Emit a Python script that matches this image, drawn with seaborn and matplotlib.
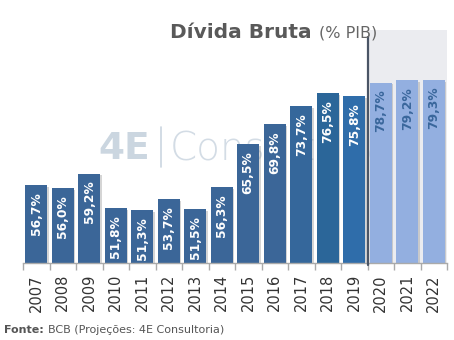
import matplotlib
matplotlib.use("Agg")
import matplotlib.pyplot as plt
import matplotlib.patheffects as pe
import seaborn as sns
import pandas as pd

years = ["2007", "2008", "2009", "2010", "2011", "2012", "2013", "2014",
         "2015", "2016", "2017", "2018", "2019", "2020", "2021", "2022"]
values = [56.7, 56.0, 59.2, 51.8, 51.3, 53.7, 51.5, 56.3,
          65.5, 69.8, 73.7, 76.5, 75.8, 78.7, 79.2, 79.3]
labels = ["56,7%", "56,0%", "59,2%", "51,8%", "51,3%", "53,7%", "51,5%", "56,3%",
          "65,5%", "69,8%", "73,7%", "76,5%", "75,8%", "78,7%", "79,2%", "79,3%"]
projected = [False] * 13 + [True] * 3

hist_color = "#3B6698"
colors = [hist_color] * 10 + ["#35679B", "#2B6699", "#2F6DAA"] + ["#93AFE0"] * 3

sns.set_theme(style="white")
plt.rcParams["font.family"] = ["DejaVu Sans"]

df = pd.DataFrame({"ano": years, "valor": values})

fig = plt.figure(figsize=(4.54, 3.4), dpi=100)
ax = fig.add_axes([23 / 454, 1 - 263 / 340, 424 / 454, 233 / 340])

ax.axvspan(12.5, 15.5, color="#EBECF0", zorder=0, lw=0)

# watermark
ax.text(0.177, 0.49, "4E", transform=ax.transAxes, fontsize=27, fontweight="heavy",
        color="#CBD6E0", va="center", ha="left", zorder=0.5)
ax.plot([0.325, 0.325], [0.41, 0.585], transform=ax.transAxes, color="#CBD6E0",
        lw=1.2, zorder=0.5)
ax.text(0.345, 0.49, "Consultoria", transform=ax.transAxes, fontsize=28,
        fontweight="light", color="#D3DCE5", va="center", ha="left", zorder=0.5)

sns.barplot(data=df, x="ano", y="valor", hue="ano", palette=colors, legend=False,
            width=0.82, saturation=1, linewidth=0, ax=ax, zorder=2)

for p in ax.patches:
    p.set_edgecolor("none")
    p.set_path_effects([pe.SimplePatchShadow(offset=(1.2, -1.2), shadow_rgbFace="#888888", alpha=0.35),
                        pe.Normal()])

for i, (v, lab, pr) in enumerate(zip(values, labels, projected)):
    ax.annotate(lab, xy=(i, v), xytext=(0, -5), textcoords="offset points",
                rotation=90, ha="center", va="top", fontsize=8.8, fontweight="bold",
                color="#3A679C" if pr else "white", zorder=3)

ax.set_ylim(40, 90)
ax.set_xlim(-0.5, 15.5)
ax.set_xlabel("")
ax.set_ylabel("")
ax.set_yticks([])

# forecast separator
ax.plot([12.5, 12.5], [39.5, 88.5], color="#4A5566", lw=1.6, zorder=4, clip_on=False)

for s in ["top", "right", "left"]:
    ax.spines[s].set_visible(False)
ax.spines["bottom"].set_color("#AAAAAA")
ax.spines["bottom"].set_linewidth(1.0)

ax.set_xticks(range(len(years)))
ax.set_xticklabels(years, rotation=90, fontsize=10.5, color="#333333")
ax.tick_params(axis="x", length=0, pad=8)
ax.set_xticks([i - 0.5 for i in range(len(years) + 1)], minor=True)
ax.tick_params(axis="x", which="minor", length=5, color="#AAAAAA", width=1, bottom=True)

fig.text(312 / 454, 1 - 38 / 340, "Dívida Bruta", fontsize=14.5, fontweight="bold",
         color="#595959", ha="right", va="baseline")
fig.text(319 / 454, 1 - 38 / 340, "(% PIB)", fontsize=11.5, color="#666666",
         ha="left", va="baseline")

t1 = fig.text(4 / 454, 1 - 333 / 340, "Fonte:", fontsize=8, fontweight="bold",
              color="#555555", ha="left", va="baseline")
fig.canvas.draw()
bb = t1.get_window_extent(renderer=fig.canvas.get_renderer())
fig.text((bb.x1 + 4) / 454, 1 - 333 / 340, "BCB (Projeções: 4E Consultoria)", fontsize=8,
         color="#555555", ha="left", va="baseline")

fig.savefig("out.png", dpi=100)
